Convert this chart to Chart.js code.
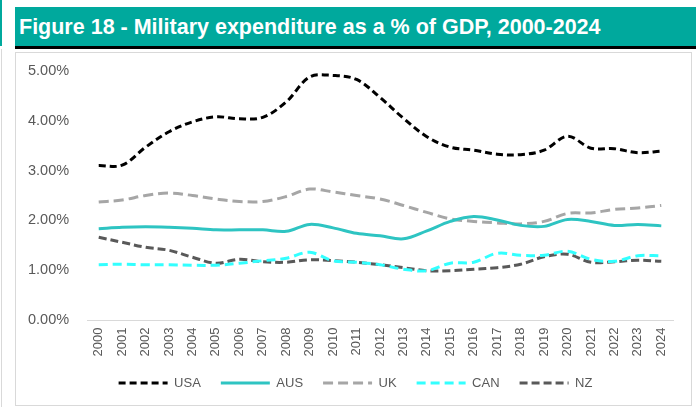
<!DOCTYPE html>
<html>
<head>
<meta charset="utf-8">
<script src="https://cdn.jsdelivr.net/npm/chart.js@4"></script>
<style>
    html, body { margin: 0; padding: 0; background: #fff; }
    body { width: 696px; height: 407px; position: relative; overflow: hidden; font-family: "Liberation Sans", Arial, sans-serif; }
    .edge-teal { position: absolute; left: 0; top: 0; width: 2px; height: 46px; background: #00A99D; }
    .edge-line { position: absolute; left: 1px; top: 49px; width: 1px; height: 358px; background: #D9D9D9; }
    .title-bar {
        position: absolute; left: 15px; top: 7px; right: 0; height: 39px;
        background: #00A99D; border-bottom: 3px solid #000;
        color: #fff; font-weight: bold; font-size: 21.5px; line-height: 41px;
        padding-left: 4px; box-sizing: content-box; white-space: nowrap;
    }
    #milexChart { position: absolute; left: 16px; top: 53px; display: block; }
    .panel {
        position: absolute; left: 15px; top: 52px; width: 675px; height: 352px;
        border: 1px solid #D9D9D9; pointer-events: none;
    }
</style>
</head>
<body>
<div class="edge-teal"></div>
<div class="edge-line"></div>
<div class="title-bar">Figure 18 - Military expenditure as a % of GDP, 2000-2024</div>
<canvas id="milexChart" width="675" height="352"></canvas>
<div class="panel"></div>

<script>
// Military expenditure, % of GDP
const years = ['2000', '2001', '2002', '2003', '2004', '2005', '2006', '2007', '2008', '2009',
    '2010', '2011', '2012', '2013', '2014', '2015', '2016', '2017', '2018', '2019',
    '2020', '2021', '2022', '2023', '2024'];

const usa = [3.10, 3.11, 3.47, 3.78, 3.98, 4.08, 4.04, 4.07, 4.38, 4.88,
    4.91, 4.83, 4.47, 4.05, 3.68, 3.47, 3.41, 3.33, 3.32, 3.41,
    3.69, 3.45, 3.44, 3.36, 3.39];
const aus = [1.83, 1.86, 1.87, 1.86, 1.84, 1.81, 1.81, 1.81, 1.78, 1.92,
    1.85, 1.74, 1.69, 1.63, 1.79, 1.98, 2.08, 2.01, 1.90, 1.88,
    2.02, 1.98, 1.90, 1.92, 1.89];
const uk = [2.37, 2.41, 2.50, 2.55, 2.50, 2.43, 2.38, 2.38, 2.48, 2.63,
    2.57, 2.50, 2.43, 2.30, 2.16, 2.03, 1.98, 1.95, 1.93, 1.98,
    2.14, 2.15, 2.22, 2.25, 2.30];
const can = [1.11, 1.12, 1.11, 1.11, 1.10, 1.10, 1.14, 1.19, 1.24, 1.36,
    1.19, 1.16, 1.11, 1.02, 0.99, 1.14, 1.16, 1.34, 1.30, 1.30,
    1.38, 1.22, 1.18, 1.29, 1.29];
const nz = [1.66, 1.56, 1.46, 1.40, 1.26, 1.14, 1.22, 1.17, 1.16, 1.21,
    1.19, 1.16, 1.11, 1.05, 0.99, 0.99, 1.02, 1.05, 1.12, 1.27,
    1.32, 1.16, 1.17, 1.20, 1.18];

const yTicks = [0, 1, 2, 3, 4, 5];

const textColor = '#595959';
const fontFamily = '"Liberation Sans", Arial, sans-serif';

function series(label, data, color, dash) {
    return {
        label: label,
        data: data,
        borderColor: color,
        backgroundColor: color,
        borderWidth: 3,
        borderDash: dash,
        borderCapStyle: 'butt',
        tension: 0.35,
        pointRadius: 0,
        pointHoverRadius: 0,
        pointStyle: 'line',
        fill: false
    };
}

// nudge the legend row a little to the right of the chart's midline
const legendShift = {
    id: 'legendShift',
    afterLayout(chart) {
        chart.legend.left += 5;
        chart.legend.right += 5;
    }
};

const ctx = document.getElementById('milexChart').getContext('2d');
new Chart(ctx, {
    type: 'line',
    data: {
        labels: years,
        datasets: [
            series('USA', usa, '#000000', [7, 4]),
            series('AUS', aus, '#2EC4C2', []),
            series('UK', uk, '#A6A6A6', [10, 5]),
            series('CAN', can, '#33FFFF', [9, 5]),
            series('NZ', nz, '#595959', [8, 4])
        ]
    },
    plugins: [legendShift],
    options: {
        responsive: false,
        animation: false,
        devicePixelRatio: 1,
        layout: {
            padding: { left: 12, right: 18, top: 18, bottom: 5.5 }
        },
        plugins: {
            tooltip: { enabled: false },
            legend: {
                position: 'bottom',
                labels: {
                    color: textColor,
                    font: { family: fontFamily, size: 13 },
                    usePointStyle: true,
                    pointStyle: 'line',
                    pointStyleWidth: 49,
                    padding: 20,
                    boxHeight: 13,
                    // point-style legend items don't pick up the dataset dash, so copy it over
                    generateLabels: function(chart) {
                        const items = Chart.defaults.plugins.legend.labels.generateLabels(chart);
                        items.forEach(item => {
                            const ds = chart.data.datasets[item.datasetIndex];
                            item.lineDash = ds.borderDash;
                            item.lineWidth = ds.borderWidth;
                        });
                        return items;
                    }
                }
            }
        },
        scales: {
            x: {
                offset: true,
                afterFit: function(axis) { axis.height = 36.5; },
                grid: { display: false, drawTicks: false },
                border: { display: true, color: '#D9D9D9', width: 1 },
                ticks: {
                    color: textColor,
                    font: { family: fontFamily, size: 13 },
                    minRotation: 90,
                    maxRotation: 90,
                    autoSkip: false,
                    padding: 7.5
                }
            },
            y: {
                min: 0,
                max: 5,
                afterFit: function(axis) { axis.width = 59; },
                afterBuildTicks: function(axis) {
                    axis.ticks = yTicks.map(v => ({ value: v }));
                },
                grid: { display: false, drawTicks: false },
                border: { display: false },
                ticks: {
                    color: textColor,
                    font: { family: fontFamily, size: 14.5 },
                    padding: 1,
                    crossAlign: 'far',
                    callback: function(value) {
                        return value.toFixed(2) + '%';
                    }
                }
            }
        }
    }
});
</script>
</body>
</html>
